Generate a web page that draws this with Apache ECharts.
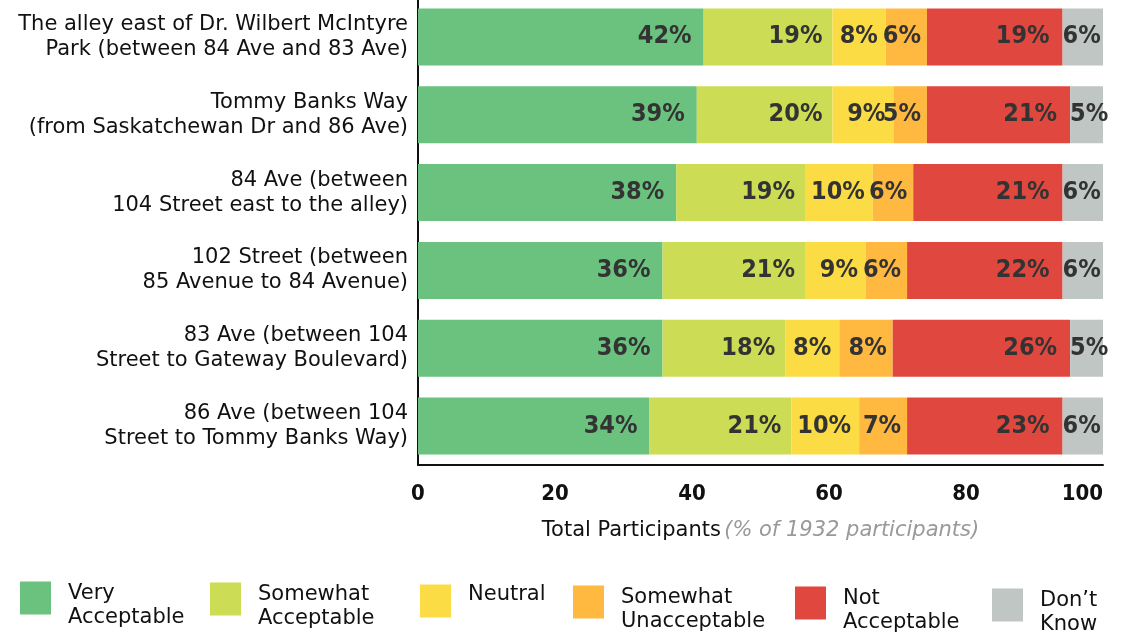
<!DOCTYPE html>
<html><head><meta charset="utf-8">
<script src="https://cdn.jsdelivr.net/npm/echarts@6/dist/echarts.min.js"></script>
<style>html,body{margin:0;padding:0;background:#fff;overflow:hidden}#c{width:1122px;height:636px;margin-top:-4px}</style>
</head><body><div id="c"></div>
<script>
const categories = [
  "The alley east of Dr. Wilbert McIntyre\nPark (between 84 Ave and 83 Ave)",
  "Tommy Banks Way\n(from Saskatchewan Dr and 86 Ave)",
  "84 Ave (between\n104 Street east to the alley)",
  "102 Street (between\n85 Avenue to 84 Avenue)",
  "83 Ave (between 104\nStreet to Gateway Boulevard)",
  "86 Ave (between 104\nStreet to Tommy Banks Way)"
];
const seriesNames = ["Very Acceptable","Somewhat Acceptable","Neutral","Somewhat Unacceptable","Not Acceptable","Don't Know"];
const legendLines = [["Very","Acceptable"],["Somewhat","Acceptable"],["Neutral"],["Somewhat","Unacceptable"],["Not","Acceptable"],["Don’t","Know"]];
// bar lengths (% of axis)
const veryAcceptable      = [41.7, 40.7, 37.7, 35.7, 35.7, 33.8];
const somewhatAcceptable  = [18.8, 19.8, 18.8, 20.8, 17.9, 20.7];
const neutral             = [7.8, 8.9, 9.9, 8.9, 7.9, 9.9];
const somewhatUnaccept    = [6.0, 4.9, 5.9, 6.0, 7.8, 7.0];
const notAcceptable       = [19.8, 20.9, 21.8, 22.7, 25.9, 22.7];
const dontKnow            = [5.9, 4.8, 5.9, 5.9, 4.8, 5.9];
// printed labels
const lblVery     = [42, 39, 38, 36, 36, 34];
const lblSomewhat = [19, 20, 19, 21, 18, 21];
const lblNeutral  = [8, 9, 10, 9, 8, 10];
const lblSomeUn   = [6, 5, 6, 6, 8, 7];
const lblNot      = [19, 21, 21, 22, 26, 23];
const lblDK       = [6, 5, 6, 6, 5, 6];
const xTicks = [0, 20, 40, 60, 80, 100];

const values = [veryAcceptable, somewhatAcceptable, neutral, somewhatUnaccept, notAcceptable, dontKnow];
const labels = [lblVery, lblSomewhat, lblNeutral, lblSomeUn, lblNot, lblDK];
const colors = ["#6AC27E", "#CCDD55", "#FCDC44", "#FFB840", "#E0473E", "#BFC6C4"];
const labelPos = ['insideRight','insideRight','insideRight','insideRight','insideRight','insideLeft'];
const labelDist = [12, 10, 8, 6, 13, 0];
const Y0 = 4; // canvas is shifted up by this many px
const legendLeft = [20, 210, 420, 573, 795, 992];
const legendIconTop = [584, 585, 586, 588, 589, 591];

const labelFont = "'DejaVu Sans Condensed','DejaVu Sans',sans-serif";
const textFont = "'DejaVu Sans',sans-serif";

const chart = echarts.init(document.getElementById('c'), null, {renderer: 'canvas'});
const series = values.map((v, i) => ({
  name: seriesNames[i],
  type: 'bar',
  stack: 'total',
  barWidth: 57,
  data: v,
  itemStyle: {color: colors[i]},
  label: {
    show: true,
    position: labelPos[i],
    distance: labelDist[i],
    formatter: p => labels[i][p.dataIndex] + '%',
    color: '#333333',
    fontFamily: labelFont,
    fontWeight: 'bold',
    fontSize: 25
  },
  emphasis: {disabled: true}
}));

const legends = seriesNames.map((n, i) => {
  const lines = legendLines[i];
  const twoLine = lines.length > 1;
  const txt = twoLine
    ? '{s| }\n' + lines.map(l => '{a|' + l + '}').join('\n')
    : '{a|' + lines[0] + '}\n{t| }';
  return {
    data: [n],
    left: legendLeft[i],
    top: Y0 + (twoLine ? legendIconTop[i] - 15 : legendIconTop[i] - 2),
    padding: 0,
    itemWidth: 31,
    itemHeight: 33,
    icon: 'rect',
    itemGap: 0,
    selectedMode: false,
    formatter: () => txt,
    textStyle: {
      color: '#111', fontFamily: textFont, fontSize: 21,
      padding: [0, 0, 0, 12],
      rich: {
        a: {color: '#111', fontFamily: textFont, fontSize: 21, lineHeight: 24},
        s: {fontSize: 10, lineHeight: 15},
        t: {fontSize: 10, lineHeight: 13}
      }
    }
  };
});

chart.setOption({
  animation: false,
  color: colors,
  legend: legends,
  grid: {left: 418, right: 19, top: Y0 - 2, bottom: 636 - (465 + Y0), containLabel: false},
  xAxis: {
    type: 'value', min: xTicks[0], max: xTicks[xTicks.length - 1], interval: 20,
    splitLine: {show: false},
    axisLine: {show: true, lineStyle: {color: '#111', width: 2}},
    axisTick: {show: false},
    axisLabel: {
      color: '#111', fontFamily: labelFont, fontWeight: 'bold', fontSize: 22, margin: 18,
      alignMaxLabel: 'right'
    },
    name: '{a|Total Participants} {b|(% of 1932 participants)}',
    nameLocation: 'middle',
    nameGap: 55,
    nameTextStyle: {
      rich: {
        a: {color: '#111', fontFamily: textFont, fontSize: 21},
        b: {color: '#999', fontFamily: textFont, fontSize: 21, fontStyle: 'italic'}
      }
    }
  },
  yAxis: {
    type: 'category', data: categories, inverse: true,
    axisLine: {show: true, lineStyle: {color: '#111', width: 2}},
    axisTick: {show: false},
    axisLabel: {
      color: '#111', fontFamily: textFont, fontSize: 21, lineHeight: 25, margin: 10, align: 'right'
    }
  },
  series: series
});
</script></body></html>
